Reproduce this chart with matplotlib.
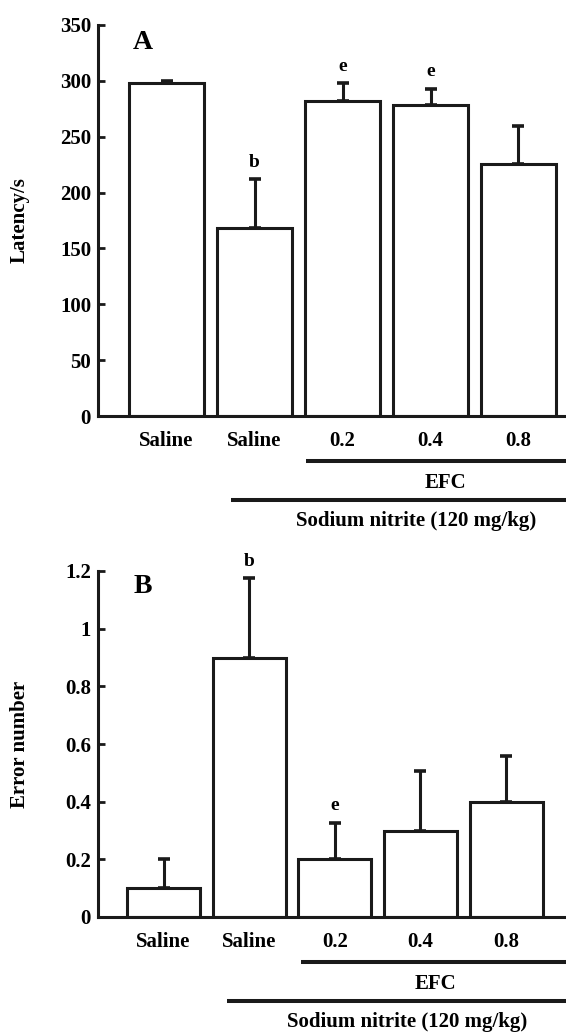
import numpy as np
import matplotlib.pyplot as plt
from matplotlib.transforms import offset_copy

plt.rcParams['font.family'] = ['Liberation Serif', 'DejaVu Serif']
plt.rcParams['font.weight'] = 'bold'

groups = ['Saline', 'Saline', '0.2', '0.4', '0.8']

# panel A: step-down latency
latency_mean = [298, 168.5, 282, 278, 226]
latency_err = [1.5, 43.5, 16, 15, 33.5]
latency_marks = ['', 'b', 'e', 'e', '']

# panel B: error number
errors_mean = [0.1, 0.9, 0.2, 0.3, 0.4]
errors_err = [0.1, 0.275, 0.127, 0.208, 0.158]
errors_marks = ['', 'b', 'e', '', '']

W, H = 566, 1032
LW = 2.2
FS = 15

fig = plt.figure(figsize=(W / 100, H / 100), dpi=100)


def panel(ax, means, errs, marks, ylim, yticks, yticklabels, ylabel,
          letter, xlim, width, efc_start, sod_start):
    x = np.arange(len(means))
    ax.bar(x, means, width=width, color='white', edgecolor='#1a1a1a',
           linewidth=LW, zorder=2)
    ax.errorbar(x, means, yerr=[np.zeros(len(errs)), errs], fmt='none',
                ecolor='#1a1a1a', elinewidth=LW, capsize=4.5, capthick=2.6,
                zorder=1)
    for xi, m, e, t in zip(x, means, errs, marks):
        if t:
            ax.annotate(t, (xi, m + e), xytext=(0, 9), textcoords='offset points',
                        ha='center', va='baseline', fontsize=14)

    ax.set_xlim(*xlim)
    ax.set_ylim(*ylim)
    ax.set_yticks(yticks)
    ax.set_yticklabels(yticklabels, fontsize=FS)
    ax.set_xticks([])
    for s in ['top', 'right']:
        ax.spines[s].set_visible(False)
    for s in ['left', 'bottom']:
        ax.spines[s].set_linewidth(LW)
        ax.spines[s].set_color('#1a1a1a')
    ax.tick_params(axis='y', direction='in', length=5, width=2, pad=5,
                   color='#1a1a1a')

    # x category labels
    tr = offset_copy(ax.get_xaxis_transform(), fig=fig, y=-30, units='dots')
    for xi, g in zip(x, groups):
        ax.text(xi, 0, g, transform=tr, ha='center', va='baseline', fontsize=FS)

    # group bars underneath
    right = xlim[1]
    tr_efc = offset_copy(ax.get_xaxis_transform(), fig=fig, y=-45, units='dots')
    ax.plot([efc_start, right], [0, 0], color='#1a1a1a', lw=2.9,
            transform=tr_efc, clip_on=False, solid_capstyle='butt')
    tr_efct = offset_copy(ax.get_xaxis_transform(), fig=fig, y=-72, units='dots')
    ax.text((efc_start + 4.75) / 2, 0, 'EFC', transform=tr_efct,
            ha='center', va='baseline', fontsize=FS)
    tr_sod = offset_copy(ax.get_xaxis_transform(), fig=fig, y=-84, units='dots')
    ax.plot([sod_start, right], [0, 0], color='#1a1a1a', lw=2.9,
            transform=tr_sod, clip_on=False, solid_capstyle='butt')
    tr_sodt = offset_copy(ax.get_xaxis_transform(), fig=fig, y=-110, units='dots')
    ax.text((sod_start + 4.95) / 2, 0, 'Sodium nitrite (120 mg/kg)',
            transform=tr_sodt, ha='center', va='baseline', fontsize=FS)

    ax.text(0.075, 0.955, letter, transform=ax.transAxes, ha='left',
            va='center', fontsize=20)

    pos = ax.get_position()
    fig.text(20 / W, pos.y0 + pos.height / 2, ylabel, rotation=90,
             ha='center', va='center', fontsize=FS)


axA = fig.add_axes([98 / W, 1 - 416 / H, 468 / W, 391 / H])
panel(axA, latency_mean, latency_err, latency_marks, (0, 350),
      np.arange(0, 351, 50), [str(v) for v in range(0, 351, 50)],
      'Latency/s', 'A', (-0.78, 4.54), 0.85, 1.59, 0.73)

axB = fig.add_axes([98 / W, 1 - 917 / H, 468 / W, 346 / H])
panel(axB, errors_mean, errors_err, errors_marks, (0, 1.2),
      np.arange(0, 1.21, 0.2), ['0', '0.2', '0.4', '0.6', '0.8', '1', '1.2'],
      'Error number', 'B', (-0.766, 4.70), 0.854, 1.61, 0.74)

fig.savefig('out.png', dpi=100)
